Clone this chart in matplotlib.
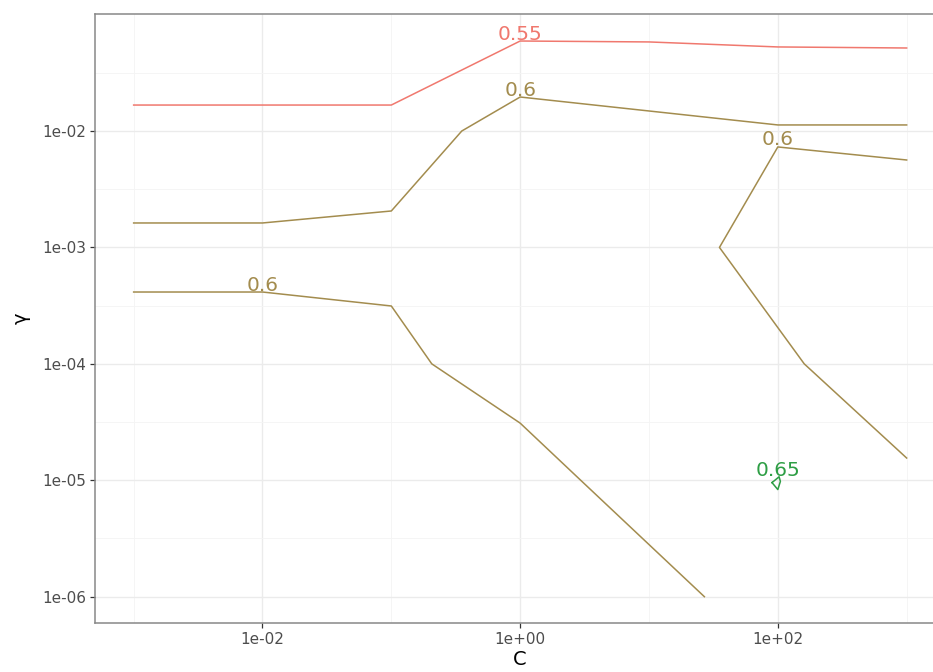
import numpy as np
import matplotlib
matplotlib.use("Agg")
import matplotlib.pyplot as plt
from matplotlib.ticker import FixedLocator, NullFormatter

# contour paths (log10 C, log10 gamma)
red_logC = [-3.0, -1.0, 0.0, 1.0, 2.0, 3.0]
red_logg = [-1.777, -1.777, -1.227, -1.235, -1.278, -1.287]

olA_logC = [-3.0, -2.0, -1.0, -0.453, 0.0, 2.0, 3.0]
olA_logg = [-2.79, -2.79, -2.687, -2.0, -1.708, -1.948, -1.948]

olB_logC = [-3.0, -2.0, -1.0, -0.686, 0.0, 0.47, 1.43]
olB_logg = [-3.383, -3.383, -3.503, -4.0, -4.509, -5.0, -6.0]

olC_logC = [3.0, 2.0, 1.547, 2.205, 3.0]
olC_logg = [-2.249, -2.137, -3.0, -4.0, -4.809]

gr_logC = [1.955, 2.01, 2.02, 2.0, 1.955]
gr_logg = [-5.02, -4.97, -5.01, -5.08, -5.02]

label_text = ["0.55", "0.6", "0.6", "0.6", "0.65"]
label_logC = [0.0, 0.0, -2.0, 2.0, 2.0]
label_logg = [-1.175, -1.648, -3.323, -2.077, -4.912]

RED = "#F0786E"
OLIVE = "#A38C4E"
GREEN = "#2E9E45"
label_col = [RED, OLIVE, OLIVE, OLIVE, GREEN]

xtick_vals = [1e-2, 1e0, 1e2]
xtick_labels = ["1e-02", "1e+00", "1e+02"]
ytick_vals = [1e-6, 1e-5, 1e-4, 1e-3, 1e-2]
ytick_labels = ["1e-06", "1e-05", "1e-04", "1e-03", "1e-02"]


def pw(v):
    return [10 ** x for x in v]


fig = plt.figure(figsize=(9.33, 6.72), dpi=100)
ax = fig.add_axes([95 / 933, 1 - 623 / 672, (945.3 - 95) / 933, (623 - 14) / 672])
ax.set_xscale("log")
ax.set_yscale("log")
ax.set_xlim(10 ** -3.3, 10 ** 3.3)
ax.set_ylim(10 ** -6.226, 10 ** -0.995)

ax.xaxis.set_major_locator(FixedLocator(xtick_vals))
ax.xaxis.set_minor_locator(FixedLocator([1e-3, 1e-1, 1e1, 1e3]))
ax.yaxis.set_major_locator(FixedLocator(ytick_vals))
ax.yaxis.set_minor_locator(FixedLocator([10 ** (-6.5 + i) for i in range(6)]))
ax.set_xticklabels(xtick_labels)
ax.set_yticklabels(ytick_labels)
ax.xaxis.set_minor_formatter(NullFormatter())
ax.yaxis.set_minor_formatter(NullFormatter())

ax.grid(True, which="major", color="#EBEBEB", lw=1.0)
ax.grid(True, which="minor", color="#F4F4F4", lw=0.6)
ax.set_axisbelow(True)

ax.tick_params(which="major", length=3.5, width=0.9, color="#333333",
               labelsize=11, labelcolor="#4D4D4D", pad=3)
ax.tick_params(which="minor", length=0)
for s in ax.spines.values():
    s.set_color("#888888")
    s.set_linewidth(1.1)

lw = 1.1
ax.plot(pw(red_logC), pw(red_logg), color=RED, lw=lw)
ax.plot(pw(olA_logC), pw(olA_logg), color=OLIVE, lw=lw)
ax.plot(pw(olB_logC), pw(olB_logg), color=OLIVE, lw=lw)
ax.plot(pw(olC_logC), pw(olC_logg), color=OLIVE, lw=lw)
ax.plot(pw(gr_logC), pw(gr_logg), color=GREEN, lw=lw)

for t, lc, lg, c in zip(label_text, label_logC, label_logg, label_col):
    ax.text(10 ** lc, 10 ** lg, t, color=c, fontsize=14.5, ha="center", va="center")

ax.set_xlabel("C", fontsize=14, color="black", labelpad=2)
ax.set_ylabel("γ", fontsize=14, color="black", labelpad=8)

fig.savefig("out.png", dpi=100)
